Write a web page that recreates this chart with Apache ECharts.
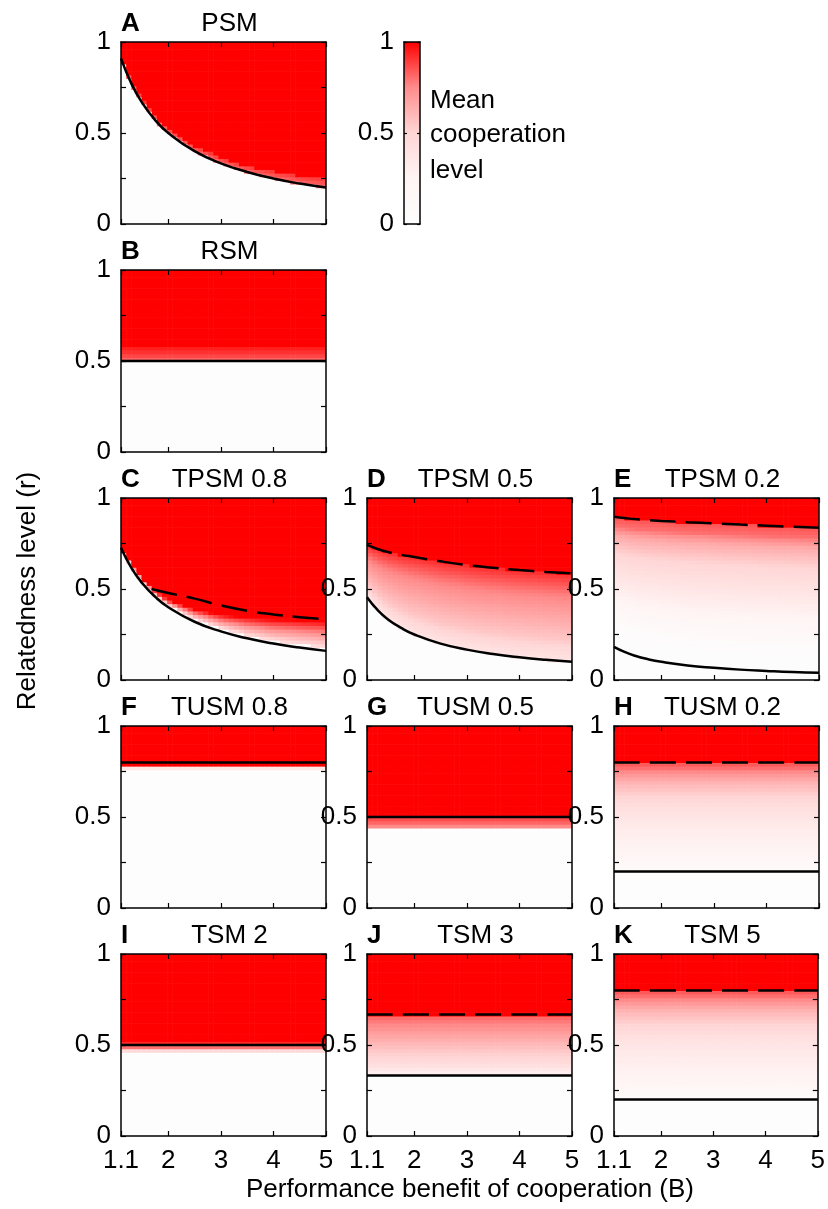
<!DOCTYPE html>
<html><head><meta charset="utf-8">
<script src="https://cdn.jsdelivr.net/npm/echarts@6/dist/echarts.min.js"></script>
<style>html,body{margin:0;padding:0;background:#fff}#c{width:828px;height:1209px}</style>
</head><body><div id="c"></div>
<script>
// ================= DATA =================
const bRange = [1.1, 5];
const xTicks = [1.1, 2, 3, 4, 5];
const yTicks = [0, 0.25, 0.5, 0.75, 1];
const yLabels = [0, 0.5, 1];
const cbTicks = [0, 0.5, 1];
const nCols = 40, nRows = 50; // simulation grid (B step ~0.1, r step 0.02)

// colour map: mean cooperation level -> colour
const colorLevels = [0, 0.25, 0.5, 0.75, 1];
const colorStops = ['#fdfdfd', '#fff4f4', '#ffd6d6', '#ff8c8c', '#ff0000'];

// B sample points for the curves
const curveB = [1.1, 1.3, 1.5, 1.75, 2, 2.5, 3, 3.5, 4, 4.5, 5];
const flatB = [1.1, 5];
const cDashB = [1.68, 2, 2.5, 3, 3.5, 4, 4.5, 5];

// ---- A  PSM ----
const A_solid = [0.91, 0.77, 0.667, 0.571, 0.5, 0.4, 0.333, 0.286, 0.25, 0.222, 0.2];
const A_edge  = [0.91, 0.78, 0.685, 0.59, 0.525, 0.43, 0.365, 0.32, 0.29, 0.265, 0.25];
const A_rampT = [0, 1];
const A_rampV = [0.8, 0.9];
// ---- B  RSM ----
const B_solid = [0.5, 0.5];
const B_floor = [0.5, 0.5];
const B_edge  = [0.58, 0.58];
const B_rampT = [0, 0.25, 0.5, 0.75, 1];
const B_rampV = [0.8, 0.85, 0.9, 0.93, 0.96];
// ---- C  TPSM 0.8 ----
const C_solid = [0.727, 0.615, 0.533, 0.457, 0.4, 0.32, 0.267, 0.229, 0.2, 0.178, 0.16];
const C_dash  = [0.5, 0.478, 0.447, 0.41, 0.38, 0.36, 0.345, 0.333];
const C_floor = [0.727, 0.62, 0.54, 0.465, 0.41, 0.335, 0.285, 0.245, 0.215, 0.195, 0.18];
const C_edge  = [0.73, 0.635, 0.56, 0.49, 0.44, 0.39, 0.36, 0.345, 0.335, 0.33, 0.325];
const C_rampT = [0, 0.3, 0.6, 0.85, 1];
const C_rampV = [0.45, 0.62, 0.78, 0.9, 1];
// ---- D  TPSM 0.5 ----
const D_solid = [0.455, 0.385, 0.333, 0.286, 0.25, 0.2, 0.167, 0.143, 0.125, 0.111, 0.1];
const D_dash  = [0.742, 0.72, 0.703, 0.688, 0.676, 0.652, 0.632, 0.617, 0.604, 0.594, 0.586];
const D_rampT = [0, 0.25, 0.5, 0.75, 0.9, 1];
const D_rampV = [0.38, 0.55, 0.66, 0.77, 0.86, 0.92];
// ---- E  TPSM 0.2 ----
const E_solid = [0.182, 0.154, 0.133, 0.114, 0.1, 0.08, 0.067, 0.057, 0.05, 0.044, 0.04];
const E_dash  = [0.897, 0.89, 0.884, 0.879, 0.874, 0.867, 0.861, 0.854, 0.848, 0.842, 0.837];
const E_rampT = [0, 0.17, 0.44, 0.72, 0.86, 0.93, 1];
const E_rampV = [0.02, 0.05, 0.3, 0.5, 0.65, 0.8, 0.85];
// ---- F  TUSM 0.8 ----
const F_solid = [0.8, 0.8];
const F_floor = [0.76, 0.76];
const F_edge  = [0.78, 0.78];
const F_rampT = [0, 1];
const F_rampV = [0.35, 0.35];
// ---- G  TUSM 0.5 ----
const G_solid = [0.5, 0.5];
const G_floor = [0.44, 0.44];
const G_edge  = [0.5, 0.5];
const G_rampT = [0, 0.5, 1];
const G_rampV = [0.72, 0.82, 0.88];
// ---- H  TUSM 0.2 ----
const H_solid = [0.2, 0.2];
const H_dash  = [0.8, 0.8];
const H_rampT = [0, 0.17, 0.5, 0.67, 0.83, 0.97, 1];
const H_rampV = [0.07, 0.23, 0.37, 0.49, 0.63, 0.83, 0.85];
// ---- I  TSM 2 ----
const I_solid = [0.5, 0.5];
const I_floor = [0.46, 0.46];
const I_edge  = [0.52, 0.52];
const I_rampT = [0, 0.167, 0.5, 0.833, 1];
const I_rampV = [0.4, 0.45, 0.8, 0.93, 1];
// ---- J  TSM 3 ----
const J_solid = [0.333, 0.333];
const J_dash  = [0.667, 0.667];
const J_rampT = [0, 0.05, 0.2, 0.5, 0.8, 0.95, 1];
const J_rampV = [0.28, 0.3, 0.45, 0.59, 0.74, 0.81, 0.83];
// ---- K  TSM 5 ----
const K_solid = [0.2, 0.2];
const K_dash  = [0.8, 0.8];
const K_rampT = [0, 0.17, 0.5, 0.67, 0.83, 0.97, 1];
const K_rampV = [0.07, 0.23, 0.37, 0.49, 0.63, 0.83, 0.85];

// ================= PANELS =================
const panels = [
  {id:'A', title:'PSM',      row:0, col:0, solidB:curveB, solid:A_solid, bndB:curveB, floor:A_solid, edge:A_edge, rampT:A_rampT, rampV:A_rampV},
  {id:'B', title:'RSM',      row:1, col:0, solidB:flatB, solid:B_solid, bndB:flatB, floor:B_floor, edge:B_edge, rampT:B_rampT, rampV:B_rampV},
  {id:'C', title:'TPSM 0.8', row:2, col:0, solidB:curveB, solid:C_solid, dashB:cDashB, dash:C_dash, bndB:curveB, floor:C_floor, edge:C_edge, rampT:C_rampT, rampV:C_rampV},
  {id:'D', title:'TPSM 0.5', row:2, col:1, solidB:curveB, solid:D_solid, dashB:curveB, dash:D_dash, bndB:curveB, floor:D_solid, edge:D_dash, rampT:D_rampT, rampV:D_rampV},
  {id:'E', title:'TPSM 0.2', row:2, col:2, solidB:curveB, solid:E_solid, dashB:curveB, dash:E_dash, bndB:curveB, floor:E_solid, edge:E_dash, rampT:E_rampT, rampV:E_rampV},
  {id:'F', title:'TUSM 0.8', row:3, col:0, solidB:flatB, solid:F_solid, bndB:flatB, floor:F_floor, edge:F_edge, rampT:F_rampT, rampV:F_rampV},
  {id:'G', title:'TUSM 0.5', row:3, col:1, solidB:flatB, solid:G_solid, bndB:flatB, floor:G_floor, edge:G_edge, rampT:G_rampT, rampV:G_rampV},
  {id:'H', title:'TUSM 0.2', row:3, col:2, solidB:flatB, solid:H_solid, dashB:flatB, dash:H_dash, bndB:flatB, floor:H_solid, edge:H_dash, rampT:H_rampT, rampV:H_rampV},
  {id:'I', title:'TSM 2',    row:4, col:0, solidB:flatB, solid:I_solid, bndB:flatB, floor:I_floor, edge:I_edge, rampT:I_rampT, rampV:I_rampV},
  {id:'J', title:'TSM 3',    row:4, col:1, solidB:flatB, solid:J_solid, dashB:flatB, dash:J_dash, bndB:flatB, floor:J_solid, edge:J_dash, rampT:J_rampT, rampV:J_rampV},
  {id:'K', title:'TSM 5',    row:4, col:2, solidB:flatB, solid:K_solid, dashB:flatB, dash:K_dash, bndB:flatB, floor:K_solid, edge:K_dash, rampT:K_rampT, rampV:K_rampV}
];

// ================= LAYOUT =================
const FONT = '"Liberation Sans", Arial, Helvetica, sans-serif';
const FS = 26;
const colLeft = [121, 367, 614], colW = 205;
const rowTop = [42, 270, 498, 726, 954], rowH = 182;
const cb = {left: 404, top: 42, width: 16, height: 182};

function interp(xs, ys, x) {
  if (x <= xs[0]) return ys[0];
  for (let i = 1; i < xs.length; i++) {
    if (x <= xs[i]) { const t = (x - xs[i-1]) / (xs[i] - xs[i-1]); return ys[i-1] + t * (ys[i] - ys[i-1]); }
  }
  return ys[ys.length - 1];
}
const dB = (bRange[1] - bRange[0]) / nCols, dR = 1 / nRows;
function buildCells(p) {
  const out = [];
  for (let i = 0; i < nCols; i++) {
    const b = bRange[0] + (i + 0.5) * dB;
    const f = interp(p.bndB, p.floor, b), e = interp(p.bndB, p.edge, b);
    for (let j = 0; j < nRows; j++) {
      const r = (j + 0.5) * dR;
      let v;
      if (r < f) v = 0; else if (r >= e) v = 1; else v = interp(p.rampT, p.rampV, (r - f) / (e - f));
      out.push([b, r, v]);
    }
  }
  return out;
}
function renderCell(params, api) {
  const b = api.value(0), r = api.value(1);
  const p0 = api.coord([b - dB / 2, r - dR / 2]);
  const p1 = api.coord([b + dB / 2, r + dR / 2]);
  return {type: 'rect', shape: {x: p0[0], y: p1[1], width: p1[0] - p0[0] + 0.6, height: p0[1] - p1[1] + 0.6},
          style: {fill: api.visual('color')}};
}

const grids = [], xAxes = [], yAxes = [], series = [], heatIdx = [], graphics = [];
const axisLineStyle = {color: '#000', width: 1.5};
const ZL = 2; // layer for lines/axes above the cells
panels.forEach((p, k) => {
  const left = colLeft[p.col], top = rowTop[p.row];
  grids.push({left: left, top: top, width: colW, height: rowH});
  const bottomRow = p.row === 4;
  xAxes.push({type: 'value', gridIndex: k, min: bRange[0], max: bRange[1], position: 'bottom', zlevel: ZL, z: 10,
    axisLine: {show: true, onZero: false, lineStyle: axisLineStyle},
    axisTick: {show: true, inside: true, length: 5, customValues: xTicks, lineStyle: {color: '#000', width: 1.2}},
    axisLabel: {show: bottomRow, customValues: xTicks, margin: 12, color: '#000', fontSize: FS, fontFamily: FONT},
    splitLine: {show: false}});
  xAxes.push({type: 'value', gridIndex: k, min: bRange[0], max: bRange[1], position: 'top', zlevel: ZL, z: 10,
    axisLine: {show: true, onZero: false, lineStyle: axisLineStyle},
    axisTick: {show: true, inside: true, length: 5, customValues: xTicks, lineStyle: {color: '#000', width: 1.2}},
    axisLabel: {show: false}, splitLine: {show: false}});
  yAxes.push({type: 'value', gridIndex: k, min: 0, max: 1, position: 'left', zlevel: ZL, z: 10,
    axisLine: {show: true, onZero: false, lineStyle: axisLineStyle},
    axisTick: {show: true, inside: true, length: 5, customValues: yTicks, lineStyle: {color: '#000', width: 1.2}},
    axisLabel: {show: true, customValues: yLabels, margin: 10, color: '#000', fontSize: FS, fontFamily: FONT},
    splitLine: {show: false}});
  yAxes.push({type: 'value', gridIndex: k, min: 0, max: 1, position: 'right', zlevel: ZL, z: 10,
    axisLine: {show: true, onZero: false, lineStyle: axisLineStyle},
    axisTick: {show: true, inside: true, length: 5, customValues: yTicks, lineStyle: {color: '#000', width: 1.2}},
    axisLabel: {show: false}, splitLine: {show: false}});
  heatIdx.push(series.length);
  series.push({type: 'custom', xAxisIndex: 2 * k, yAxisIndex: 2 * k, renderItem: renderCell, clip: true,
    progressive: 100000, progressiveThreshold: 100000, encode: {x: 0, y: 1}, data: buildCells(p), z: 1, silent: true});
  series.push({type: 'line', xAxisIndex: 2 * k, yAxisIndex: 2 * k, symbol: 'none', smooth: 0.5,
    data: p.solidB.map((b, i) => [b, p.solid[i]]), lineStyle: {color: '#000', width: 2.5}, zlevel: ZL, z: 5, silent: true});
  if (p.dash) {
    series.push({type: 'line', xAxisIndex: 2 * k, yAxisIndex: 2 * k, symbol: 'none', smooth: 0.5,
      data: p.dashB.map((b, i) => [b, p.dash[i]]), lineStyle: {color: '#000', width: 2.5, type: [26, 10]}, zlevel: ZL, z: 5, silent: true});
  }
  graphics.push({type: 'text', x: left, y: top - 18, z: 20,
    style: {text: p.id, font: 'bold ' + FS + 'px ' + FONT, fill: '#000', align: 'left', verticalAlign: 'middle'}});
  graphics.push({type: 'text', x: left + colW / 2 + 6, y: top - 18, z: 20,
    style: {text: p.title, font: FS + 'px ' + FONT, fill: '#000', align: 'center', verticalAlign: 'middle'}});
});

// colour bar
const cbIndex = panels.length;
grids.push({left: cb.left, top: cb.top, width: cb.width, height: cb.height});
xAxes.push({type: 'value', gridIndex: cbIndex, min: 0, max: 1, position: 'bottom', zlevel: ZL, z: 10,
  axisLine: {show: true, onZero: false, lineStyle: axisLineStyle}, axisTick: {show: false}, axisLabel: {show: false}, splitLine: {show: false}});
xAxes.push({type: 'value', gridIndex: cbIndex, min: 0, max: 1, position: 'top', zlevel: ZL, z: 10,
  axisLine: {show: true, onZero: false, lineStyle: axisLineStyle}, axisTick: {show: false}, axisLabel: {show: false}, splitLine: {show: false}});
yAxes.push({type: 'value', gridIndex: cbIndex, min: 0, max: 1, position: 'left', zlevel: ZL, z: 10,
  axisLine: {show: true, onZero: false, lineStyle: axisLineStyle},
  axisTick: {show: true, inside: true, length: 3, customValues: cbTicks, lineStyle: {color: '#000', width: 1.2}},
  axisLabel: {show: true, customValues: cbTicks, margin: 10, color: '#000', fontSize: FS, fontFamily: FONT}, splitLine: {show: false}});
yAxes.push({type: 'value', gridIndex: cbIndex, min: 0, max: 1, position: 'right', zlevel: ZL, z: 10,
  axisLine: {show: true, onZero: false, lineStyle: axisLineStyle},
  axisTick: {show: true, inside: true, length: 3, customValues: cbTicks, lineStyle: {color: '#000', width: 1.2}},
  axisLabel: {show: false}, splitLine: {show: false}});
series.push({type: 'custom', xAxisIndex: 2 * cbIndex, yAxisIndex: 2 * cbIndex, clip: true, silent: true,
  data: [[0, 0, 1, 1]],
  renderItem: function (params, api) {
    const p0 = api.coord([api.value(0), api.value(1)]);
    const p1 = api.coord([api.value(2), api.value(3)]);
    const grad = new echarts.graphic.LinearGradient(0, 1, 0, 0,
      colorLevels.map((l, i) => ({offset: l, color: colorStops[i]})));
    return {type: 'rect', shape: {x: p0[0], y: p1[1], width: p1[0] - p0[0], height: p0[1] - p1[1]}, style: {fill: grad}};
  }});

['Mean', 'cooperation', 'level'].forEach((t, i) => {
  graphics.push({type: 'text', x: 430, y: [101, 135, 171][i], z: 20,
    style: {text: t, font: FS + 'px ' + FONT, fill: '#000', align: 'left', verticalAlign: 'middle'}});
});
graphics.push({type: 'text', x: 28, y: 591, rotation: Math.PI / 2, z: 20,
  style: {text: 'Relatedness level (r)', font: FS + 'px ' + FONT, fill: '#000', align: 'center', verticalAlign: 'middle'}});
graphics.push({type: 'text', x: 470, y: 1190, z: 20,
  style: {text: 'Performance benefit of cooperation (B)', font: FS + 'px ' + FONT, fill: '#000', align: 'center', verticalAlign: 'middle'}});

const chart = echarts.init(document.getElementById('c'), null, {renderer: 'canvas'});
chart.setOption({
  animation: false,
  backgroundColor: '#ffffff',
  textStyle: {fontFamily: FONT},
  grid: grids, xAxis: xAxes, yAxis: yAxes,
  visualMap: [{type: 'continuous', show: false, min: 0, max: 1, dimension: 2, seriesIndex: heatIdx,
    inRange: {color: colorStops}}],
  series: series,
  graphic: graphics
});
</script></body></html>
